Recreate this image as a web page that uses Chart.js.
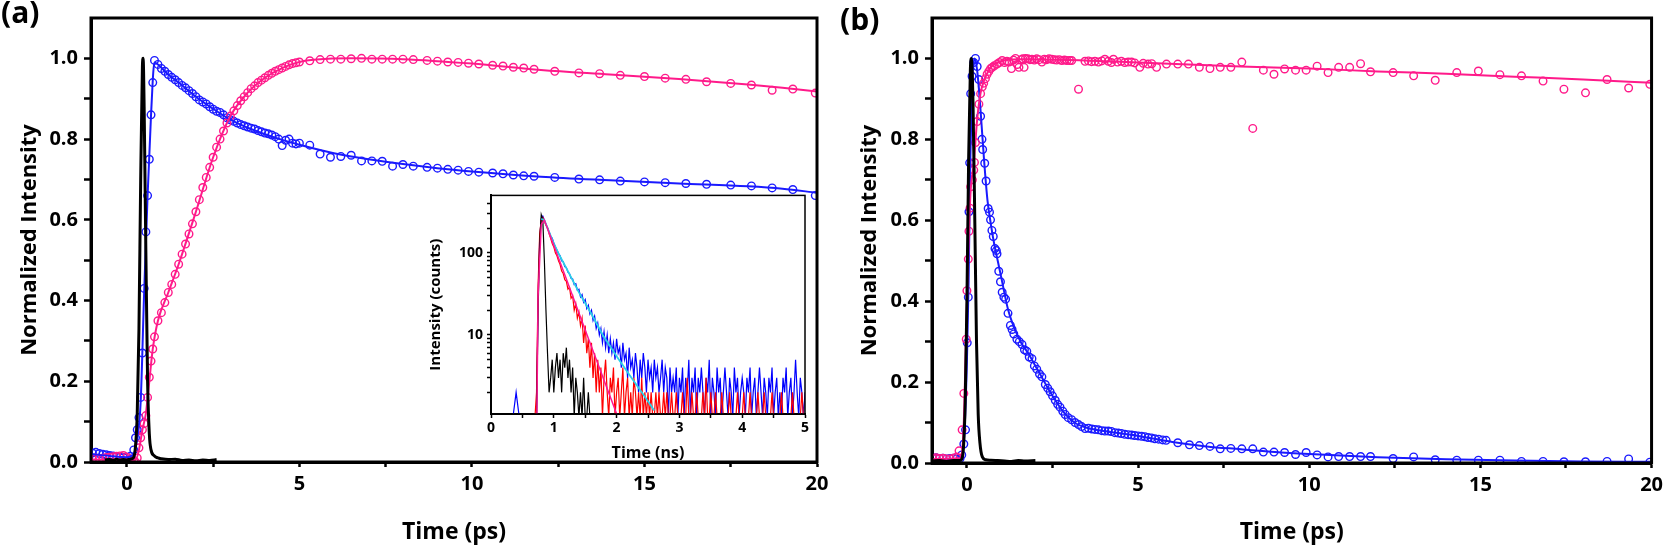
<!DOCTYPE html>
<html>
<head>
<meta charset="utf-8">
<script src="https://cdn.jsdelivr.net/npm/chart.js@4.4.1/dist/chart.umd.min.js"></script>
<style>
  html, body { margin: 0; padding: 0; background: #fff; }
  #wrap { position: relative; width: 1668px; height: 546px; overflow: hidden; }
  canvas { position: absolute; }
  .tag { position: absolute; font: bold 30px 'Open Sans', sans-serif; line-height: 30px; color: #000; }
</style>
</head>
<body>
<div id="wrap">
  <canvas id="chartA" width="834" height="546" style="left:0;top:0"></canvas>
  <canvas id="chartB" width="834" height="546" style="left:834px;top:0"></canvas>
  <canvas id="inset" width="400" height="287" style="left:415px;top:183px"></canvas>
  <div class="tag" style="left:1px;top:-3px">(a)</div>
  <div class="tag" style="left:840px;top:4px">(b)</div>
</div>
<script>
// ---- tick labels ----
const X_TICKS = [0, 2.5, 5, 7.5, 10, 12.5, 15, 17.5, 20];
const Y_TICKS = [0, 0.1, 0.2, 0.3, 0.4, 0.5, 0.6, 0.7, 0.8, 0.9, 1.0];
const INSET_X_TICKS = [0, 0.5, 1, 1.5, 2, 2.5, 3, 3.5, 4, 4.5, 5];
const INSET_Y_TICKS = [2, 3, 4, 5, 6, 7, 8, 9, 10, 20, 30, 40, 50, 60, 70, 80, 90, 100, 200, 300, 400];

// ---- panel (a): time (ps) of the circles ----
const A_T = [
  -1.0, -0.9, -0.8, -0.7, -0.6, -0.5, -0.4, -0.3, -0.2, -0.1, 0.0, 0.1, 0.2,
  0.25, 0.3, 0.35, 0.4, 0.45, 0.5, 0.55, 0.6, 0.65, 0.7, 0.75, 0.8,
  0.9, 1.0, 1.1, 1.2, 1.3, 1.4, 1.5, 1.6, 1.7, 1.8, 1.9, 2.0, 2.1, 2.2, 2.3, 2.4, 2.5, 2.6, 2.7, 2.8, 2.9,
  3.0, 3.1, 3.2, 3.3, 3.4, 3.5, 3.6, 3.7, 3.8, 3.9, 4.0, 4.1, 4.2, 4.3, 4.4, 4.5, 4.6, 4.7, 4.8, 4.9, 5.0,
  5.3, 5.6, 5.9, 6.2, 6.5, 6.8, 7.1, 7.4, 7.7, 8.0, 8.3, 8.7, 9.0, 9.3, 9.6, 9.9, 10.2, 10.6, 10.9, 11.2, 11.5, 11.8,
  12.4, 13.1, 13.7, 14.3, 15.0, 15.6, 16.2, 16.8, 17.5, 18.1, 18.7, 19.3, 19.95
];
const A_BLUE = [
  0.022, 0.024, 0.021, 0.019, 0.018, 0.016, 0.015, 0.013, 0.012, 0.011, 0.012, 0.014, 0.03,
  0.06, 0.08, 0.11, 0.16, 0.27, 0.43, 0.57, 0.66, 0.75, 0.86, 0.94, 0.995,
  0.985, 0.975, 0.968, 0.96, 0.953, 0.947, 0.94, 0.933, 0.927, 0.92, 0.913, 0.905, 0.897, 0.892, 0.887, 0.88, 0.874, 0.869, 0.866, 0.86, 0.853,
  0.848, 0.844, 0.84, 0.836, 0.833, 0.83, 0.827, 0.825, 0.821, 0.818, 0.815, 0.813, 0.81, 0.806, 0.80, 0.784, 0.797, 0.80, 0.79, 0.788, 0.79,
  0.785, 0.763, 0.755, 0.757, 0.76, 0.746, 0.746, 0.745, 0.733, 0.737, 0.733, 0.73, 0.728, 0.725, 0.723, 0.72, 0.718, 0.716, 0.714, 0.711, 0.709, 0.708,
  0.705, 0.701, 0.699, 0.696, 0.694, 0.692, 0.69, 0.688, 0.686, 0.684, 0.679, 0.675, 0.66
];
const A_PINK = [
  0.008, 0.01, 0.008, 0.009, 0.011, 0.012, 0.013, 0.014, 0.015, 0.016, 0.012, 0.008, 0.004,
  0.0, 0.01, 0.035, 0.06, 0.08, 0.095, 0.115, 0.16, 0.21, 0.25, 0.28, 0.31,
  0.35, 0.37, 0.395, 0.42, 0.44, 0.465, 0.49, 0.515, 0.54, 0.565, 0.59, 0.62, 0.65, 0.68, 0.705, 0.73, 0.755, 0.78, 0.80, 0.82, 0.84,
  0.857, 0.87, 0.883, 0.895, 0.905, 0.915, 0.925, 0.932, 0.94, 0.946, 0.952, 0.958, 0.963, 0.968, 0.972, 0.976, 0.98, 0.984, 0.987, 0.989, 0.991,
  0.994, 0.997, 0.998, 0.998, 0.999, 1.0, 0.998, 0.998, 0.998, 0.998, 0.997, 0.995, 0.993, 0.991, 0.99, 0.988, 0.986, 0.983, 0.981, 0.978, 0.976, 0.973,
  0.968, 0.964, 0.962, 0.958, 0.955, 0.951, 0.948, 0.942, 0.938, 0.934, 0.921, 0.924, 0.914
];
const A_BLUE_FIT_T = [-1.04, -0.5, 0.0, 0.2, 0.3, 0.4, 0.5, 0.6, 0.7, 0.8, 0.9, 1.2, 1.5, 2.0, 2.5, 3.0, 3.5, 4.0, 4.5, 5.0, 6.0, 7.0, 8.0, 9.0, 10.0, 12.0, 14.0, 16.0, 18.0, 19.0, 20.0];
const A_BLUE_FIT = [0.02, 0.015, 0.012, 0.02, 0.06, 0.15, 0.42, 0.66, 0.86, 0.99, 0.985, 0.96, 0.94, 0.905, 0.875, 0.848, 0.828, 0.812, 0.798, 0.786, 0.765, 0.75, 0.738, 0.728, 0.72, 0.707, 0.698, 0.69, 0.683, 0.677, 0.667];
const A_PINK_FIT_T = [-1.04, 0.25, 0.35, 0.45, 0.55, 0.65, 0.75, 0.9, 1.2, 1.5, 2.0, 2.5, 3.0, 3.5, 4.0, 4.5, 5.0, 5.5, 6.5, 8.0, 10.0, 12.0, 14.0, 16.0, 18.0, 19.0, 20.0];
const A_PINK_FIT = [0.006, 0.005, 0.03, 0.08, 0.12, 0.2, 0.28, 0.35, 0.42, 0.49, 0.62, 0.755, 0.857, 0.915, 0.952, 0.976, 0.991, 0.997, 1.0, 0.998, 0.987, 0.971, 0.96, 0.949, 0.935, 0.927, 0.918];
const A_IRF_T = [-0.64, -0.5, -0.4, -0.3, -0.2, -0.1, 0.0, 0.1, 0.2, 0.25, 0.3, 0.35, 0.4, 0.45, 0.47, 0.5, 0.55, 0.6, 0.65, 0.7, 0.8, 0.9, 1.0, 1.2, 1.4, 1.6, 1.8, 2.0, 2.2, 2.4, 2.6];
const A_IRF = [0.005, 0.006, 0.004, 0.007, 0.005, 0.006, 0.005, 0.007, 0.012, 0.04, 0.12, 0.33, 0.7, 0.98, 1.0, 0.88, 0.52, 0.2, 0.07, 0.03, 0.015, 0.01, 0.008, 0.006, 0.007, 0.004, 0.005, 0.003, 0.005, 0.004, 0.006];

// ---- panel (b) ----
const B_BLUE_T = [
  -1.0, -0.9, -0.8, -0.7, -0.6, -0.5, -0.4, -0.3, -0.2, -0.15,
  -0.09, -0.04, 0.01, 0.04, 0.06, 0.08, 0.11, 0.15, 0.2, 0.25,
  0.3, 0.35, 0.4, 0.44, 0.46, 0.52, 0.56, 0.62, 0.66, 0.69,
  0.73, 0.77, 0.82, 0.86, 0.88, 0.93, 0.98, 1.03, 1.08, 1.13,
  1.2, 1.27, 1.32, 1.37, 1.46, 1.53, 1.61, 1.68, 1.75, 1.82,
  1.9, 1.97, 2.04, 2.12, 2.19, 2.29, 2.36, 2.43, 2.5, 2.58,
  2.65, 2.72, 2.8, 2.87, 2.96, 3.06, 3.16, 3.26, 3.35, 3.45,
  3.55, 3.65, 3.74, 3.84, 3.94, 4.03, 4.13, 4.22, 4.32, 4.42,
  4.51, 4.61, 4.71, 4.81, 4.9, 5.0, 5.1, 5.2, 5.29, 5.39,
  5.49, 5.6, 5.72, 5.82, 6.16, 6.5, 6.79, 7.1, 7.4, 7.71,
  8.03, 8.35, 8.66, 8.97, 9.28, 9.6, 9.91, 10.23, 10.55, 10.86,
  11.18, 11.5, 11.79, 12.45, 13.05, 13.68, 14.31, 14.94, 15.57, 16.2,
  16.83, 17.44, 18.07, 18.7, 19.33, 19.95
];
const B_BLUE = [
  0.012, 0.013, 0.011, 0.012, 0.01, 0.011, 0.012, 0.01, 0.011, 0.02,
  0.047, 0.082, 0.297, 0.41, 0.621, 0.742, 0.913, 0.956, 0.99, 1.0,
  0.98, 0.948, 0.857, 0.8, 0.775, 0.741, 0.697, 0.629, 0.62, 0.601,
  0.575, 0.56, 0.53, 0.525, 0.517, 0.474, 0.448, 0.422, 0.41, 0.405,
  0.37, 0.34, 0.33, 0.319, 0.306, 0.3, 0.293, 0.28, 0.276, 0.262,
  0.258, 0.24, 0.232, 0.22, 0.213, 0.194, 0.185, 0.176, 0.166, 0.155,
  0.145, 0.138, 0.128, 0.12, 0.112, 0.107, 0.1, 0.095, 0.09, 0.085,
  0.086, 0.084, 0.083, 0.082, 0.08, 0.079, 0.079, 0.078, 0.075, 0.074,
  0.073, 0.071, 0.07, 0.069, 0.068, 0.067, 0.066, 0.065, 0.063, 0.062,
  0.06, 0.059, 0.057, 0.056, 0.05, 0.045, 0.043, 0.041, 0.035, 0.036,
  0.035, 0.035, 0.027, 0.027, 0.026, 0.021, 0.026, 0.02, 0.015, 0.016,
  0.016, 0.016, 0.016, 0.011, 0.015, 0.008, 0.007, 0.007, 0.007, 0.004,
  0.004, 0.003, 0.003, 0.004, 0.01, 0.002
];
const B_PINK_T = [
  -1.0, -0.9, -0.8, -0.7, -0.6, -0.5, -0.4, -0.3, -0.23, -0.14,
  -0.09, -0.02, 0.0, 0.04, 0.06, 0.09, 0.11, 0.16, 0.2, 0.22,
  0.25, 0.3, 0.35, 0.4, 0.45, 0.49, 0.54, 0.59, 0.64, 0.69,
  0.74, 0.8, 0.88, 0.95, 1.03, 1.1, 1.17, 1.23, 1.3, 1.36,
  1.42, 1.47, 1.52, 1.58, 1.63, 1.67, 1.71, 1.78, 1.84, 1.9,
  1.97, 2.04, 2.11, 2.19, 2.26, 2.33, 2.4, 2.48, 2.55, 2.62,
  2.7, 2.77, 2.85, 2.92, 3.0, 3.06, 3.26, 3.45, 3.55, 3.64,
  3.74, 3.84, 3.94, 4.03, 4.13, 4.22, 4.28, 4.4, 4.51, 4.61,
  4.71, 4.81, 4.9, 5.05, 5.15, 5.29, 5.4, 5.54, 5.83, 6.16,
  6.47, 6.79, 7.1, 7.4, 7.71, 8.03, 8.35, 8.66, 8.97, 9.28,
  9.6, 9.91, 10.23, 10.55, 10.86, 11.18, 11.5, 11.79, 12.45, 13.05,
  13.68, 14.31, 14.94, 15.57, 16.2, 16.83, 17.44, 18.07, 18.7, 19.33,
  19.95
];
const B_PINK = [
  0.012, 0.013, 0.011, 0.012, 0.01, 0.01, 0.012, 0.015, 0.03, 0.082,
  0.172, 0.306, 0.426, 0.504, 0.573, 0.63, 0.683, 0.7, 0.724, 0.743,
  0.792, 0.844, 0.887, 0.913, 0.93, 0.939, 0.95, 0.961, 0.968, 0.975,
  0.978, 0.982, 0.986, 0.99, 0.995, 0.99, 0.993, 0.991, 0.975, 0.996,
  1.0, 0.985, 0.978, 0.997, 0.999, 0.978, 1.0, 0.999, 0.997, 0.998,
  0.996, 0.999, 0.997, 0.991, 0.998, 0.997, 0.999, 0.998, 0.997, 0.996,
  0.997, 0.995, 0.996, 0.995, 0.995, 0.995, 0.924, 0.993, 0.994, 0.992,
  0.993, 0.991, 0.994, 0.998, 0.993, 0.99, 0.998, 0.991, 0.993, 0.99,
  0.991, 0.991, 0.989, 0.978, 0.988, 0.986, 0.987, 0.978, 0.986, 0.986,
  0.986, 0.978, 0.975, 0.978, 0.978, 0.991, 0.827, 0.971, 0.961, 0.974,
  0.971, 0.971, 0.981, 0.965, 0.978, 0.978, 0.987, 0.967, 0.965, 0.957,
  0.946, 0.965, 0.969, 0.96, 0.957, 0.944, 0.924, 0.915, 0.948, 0.927,
  0.936
];
const B_BLUE_FIT_T = [-1.02, -0.2, -0.1, 0.0, 0.05, 0.1, 0.15, 0.22, 0.3, 0.4, 0.5, 0.6, 0.7, 0.8, 0.9, 1.0, 1.2, 1.4, 1.6, 1.8, 2.0, 2.2, 2.4, 2.6, 2.8, 3.0, 3.2, 3.5, 4.0, 5.0, 6.0, 7.0, 8.0, 9.0, 10.0, 12.0, 14.0, 16.0, 18.0, 20.0];
const B_BLUE_FIT = [0.008, 0.01, 0.04, 0.25, 0.45, 0.75, 0.93, 1.0, 0.97, 0.87, 0.75, 0.65, 0.59, 0.54, 0.5, 0.46, 0.38, 0.33, 0.295, 0.27, 0.24, 0.21, 0.18, 0.153, 0.128, 0.11, 0.097, 0.087, 0.079, 0.067, 0.052, 0.041, 0.034, 0.027, 0.022, 0.014, 0.009, 0.006, 0.004, 0.003];
const B_PINK_FIT_T = [-1.02, -0.2, -0.1, 0.0, 0.1, 0.2, 0.3, 0.4, 0.5, 0.7, 1.0, 1.5, 3.0, 5.0, 8.0, 10.0, 12.0, 14.0, 16.0, 18.0, 20.0];
const B_PINK_FIT = [0.01, 0.012, 0.08, 0.4, 0.66, 0.74, 0.85, 0.915, 0.945, 0.978, 0.993, 0.998, 0.996, 0.99, 0.98, 0.975, 0.968, 0.962, 0.955, 0.948, 0.94];
const B_IRF_T = [-1.0, -0.8, -0.6, -0.4, -0.2, -0.15, -0.1, -0.05, 0.0, 0.05, 0.1, 0.13, 0.18, 0.23, 0.28, 0.33, 0.38, 0.45, 0.55, 0.7, 0.9, 1.1, 1.3, 1.5, 1.7, 2.0];
const B_IRF = [0.005, 0.006, 0.004, 0.006, 0.006, 0.01, 0.04, 0.15, 0.4, 0.75, 0.97, 1.0, 0.88, 0.6, 0.3, 0.12, 0.05, 0.015, 0.008, 0.007, 0.006, 0.005, 0.004, 0.006, 0.005, 0.006];

// ---- inset: time (ns) and counts ----
const INSET_T = [
  0.35, 0.40, 0.45,
  0.70, 0.725, 0.75, 0.775, 0.80, 0.825, 0.85, 0.875, 0.90, 0.925,
  0.95, 0.975, 1.00, 1.025, 1.05, 1.075, 1.10, 1.125, 1.15, 1.175,
  1.20, 1.225, 1.25, 1.275, 1.30, 1.325, 1.35, 1.375, 1.40, 1.425,
  1.45, 1.475, 1.50, 1.525, 1.55, 1.575, 1.60, 1.625, 1.65, 1.675,
  1.70, 1.725, 1.75, 1.775, 1.80, 1.825, 1.85, 1.875, 1.90, 1.925,
  1.95, 1.975, 2.00, 2.025, 2.05, 2.075, 2.10, 2.125, 2.15, 2.175,
  2.20, 2.225, 2.25, 2.275, 2.30, 2.325, 2.35, 2.375, 2.40, 2.425,
  2.45, 2.475, 2.50, 2.525, 2.55, 2.575, 2.60, 2.625, 2.65, 2.675,
  2.70, 2.725, 2.75, 2.775, 2.80, 2.825, 2.85, 2.875, 2.90, 2.925,
  2.95, 2.975, 3.00,
  3.025, 3.05, 3.075, 3.10, 3.125, 3.15, 3.175, 3.20, 3.225, 3.25,
  3.275, 3.30, 3.325, 3.35, 3.375, 3.40, 3.425, 3.45, 3.475, 3.50,
  3.525, 3.55, 3.575, 3.60, 3.625, 3.65, 3.675, 3.70, 3.725, 3.75,
  3.775, 3.80, 3.825, 3.85, 3.875, 3.90, 3.925, 3.95, 3.975, 4.00,
  4.025, 4.05, 4.075, 4.10, 4.125, 4.15, 4.175, 4.20, 4.225, 4.25,
  4.275, 4.30, 4.325, 4.35, 4.375, 4.40, 4.425, 4.45, 4.475, 4.50,
  4.525, 4.55, 4.575, 4.60, 4.625, 4.65, 4.675, 4.70, 4.725, 4.75,
  4.775, 4.80, 4.825, 4.85, 4.875, 4.90, 4.925, 4.95, 4.975, 5.00
];
const INSET_BLUE = [
  1, 2, 1,
  1, 1, 30, 150, 260, 280, 250, 225, 200, 180,
  160, 150, 132, 118, 108, 98, 92, 80, 78, 68,
  66, 58, 56, 49, 48, 41, 42, 35, 36, 29,
  31, 25, 27, 21, 23, 18, 20, 15, 17, 12,
  14, 10, 12, 8, 11, 7, 10, 6, 9, 6,
  8, 5, 9, 6, 7, 4, 8, 5, 6, 3,
  7, 4, 5, 3, 6, 4, 2, 5, 3, 6,
  4, 2, 5, 3, 4, 2, 5, 3, 4, 2,
  3, 5, 2, 4, 3, 1, 4, 2, 3, 2,
  4, 1, 3,
  2, 4, 1, 3, 2, 5, 1, 3, 2, 4,
  1, 3, 2, 4, 2, 1, 3, 2, 5, 1,
  3, 2, 1, 4, 2, 3, 1, 2, 4, 2,
  1, 3, 2, 1, 4, 2, 3, 1, 2, 3,
  2, 1, 3, 2, 4, 1, 2, 3, 1, 2,
  4, 2, 1, 3, 2, 1, 3, 2, 4, 1,
  2, 3, 1, 2, 1, 3, 2, 4, 1, 2,
  3, 1, 2, 5, 2, 1, 3, 2, 1, 2
];
const INSET_RED = [
  1, 1, 1,
  1, 2, 40, 170, 250, 270, 240, 215, 205, 170,
  150, 130, 118, 100, 92, 80, 72, 60, 56, 47,
  45, 36, 38, 28, 30, 20, 24, 16, 19, 13,
  16, 8, 13, 6, 9, 4, 8, 3, 6, 2,
  5, 2, 4, 1, 3, 5, 2, 1, 3, 2,
  4, 1, 2, 3, 1, 2, 4, 1, 2, 3,
  1, 2, 1, 3, 2, 1, 2, 1, 3, 1,
  2, 1, 2, 1, 2, 1, 1, 2, 1, 2,
  1, 1, 2, 1, 2, 1, 1, 2, 1, 1,
  2, 1, 1,
  1, 2, 1, 1, 3, 1, 1, 2, 1, 1,
  2, 1, 1, 1, 2, 1, 3, 1, 1, 2,
  1, 1, 2, 1, 1, 1, 2, 1, 1, 1,
  1, 2, 1, 1, 1, 1, 2, 1, 1, 1,
  2, 1, 1, 1, 2, 1, 1, 1, 1, 2,
  1, 1, 1, 2, 1, 1, 1, 1, 2, 1,
  1, 1, 1, 1, 2, 1, 1, 1, 1, 1,
  1, 2, 1, 1, 1, 1, 1, 2, 1, 1
];
const INSET_BLACK = [
  1, 1, 1,
  1, 1, 20, 130, 290, 250, 80, 20, 6, 2,
  3, 5, 2, 4, 6, 3, 5, 2, 6, 4,
  7, 3, 5, 2, 4, 1, 3, 2, 1, 2,
  1, 3, 1, 1, 2, 1, 1
];
const CYAN_T = [0.80, 0.85, 0.90, 1.00, 1.07, 1.20, 1.40, 1.60, 1.78, 2.00, 2.20, 2.40, 2.60];
const CYAN_FIT = [260, 250, 200, 130, 100, 65, 33, 18, 10, 5.5, 3.3, 2.0, 1.2];
const MAGENTA_T = [0.73, 0.75, 0.80, 0.85, 1.00, 1.20, 1.40, 1.53, 1.60, 1.80, 2.00, 2.05];
const MAGENTA_FIT = [1, 30, 220, 250, 123, 48, 18.5, 10, 7.2, 2.8, 1.1, 0.9];

const BLUE = '#1a1aff';
const PINK = '#ff1a8a';

Chart.defaults.font.family = "'Open Sans', sans-serif";
Chart.defaults.font.weight = 'bold';
Chart.defaults.color = '#000';

function pts(xs, ys) {
  return ys.map((y, i) => ({ x: xs[i], y: y }));
}

// frame round the plot area (top and right sides too)
const frame = {
  id: 'frame',
  afterDraw(chart, args, opts) {
    const { ctx, chartArea: a } = chart;
    ctx.save();
    ctx.strokeStyle = '#000';
    ctx.lineWidth = opts.width || 3;
    ctx.strokeRect(a.left, a.top, a.right - a.left, a.bottom - a.top);
    ctx.restore();
  }
};

function circles(data, color, order) {
  return {
    data: data, showLine: false, order: order,
    pointRadius: 3.8, pointBorderWidth: 1.4,
    borderColor: color, backgroundColor: 'rgba(0,0,0,0)'
  };
}

function curve(data, color, width, order) {
  return {
    data: data, showLine: true, order: order,
    pointRadius: 0, borderColor: color, borderWidth: width,
    cubicInterpolationMode: 'monotone'
  };
}

function mainChart(id, datasets, xMin, yTitlePad, pad, yWidth, xHeight) {
  return new Chart(document.getElementById(id), {
    type: 'scatter',
    data: { datasets: datasets },
    plugins: [frame],
    options: {
      responsive: false,
      animation: false,
      events: [],
      layout: { padding: pad },
      plugins: { legend: { display: false }, tooltip: { enabled: false }, frame: { width: 3 } },
      scales: {
        x: {
          type: 'linear', min: xMin, max: 20,
          afterBuildTicks: s => { s.ticks = X_TICKS.map(v => ({ value: v })); },
          afterFit: s => { s.height = xHeight; },
          ticks: {
            autoSkip: false, maxRotation: 0, padding: 5,
            font: { size: 20, weight: 'bold' }, color: '#000',
            callback: v => (v % 5 === 0 ? String(v) : '')
          },
          grid: { drawOnChartArea: false, tickLength: 5, tickWidth: 2.5, tickColor: '#000', color: '#000' },
          border: { display: true, color: '#000', width: 3 },
          title: { display: true, text: 'Time (ps)', font: { size: 23, weight: 'bold' }, color: '#000', padding: { top: 0, bottom: 0 } }
        },
        y: {
          type: 'linear', min: 0, max: 1.1,
          afterBuildTicks: s => { s.ticks = Y_TICKS.map(v => ({ value: v })); },
          afterFit: s => { s.width = yWidth; },
          ticks: {
            autoSkip: false, padding: 6,
            font: { size: 20, weight: 'bold' }, color: '#000',
            callback: v => (Math.round(v * 10) % 2 === 0 ? v.toFixed(1) : '')
          },
          grid: { drawOnChartArea: false, tickLength: 7, tickWidth: 2.5, tickColor: '#000', color: '#000' },
          border: { display: true, color: '#000', width: 3 },
          title: { display: true, text: 'Normalized Intensity', font: { size: 22, weight: 'bold' }, color: '#000', padding: { top: yTitlePad, bottom: 0 } }
        }
      }
    }
  });
}

mainChart('chartA', [
  curve(pts(A_IRF_T, A_IRF), '#000', 3, 0),
  curve(pts(A_PINK_FIT_T, A_PINK_FIT), PINK, 2, 1),
  curve(pts(A_BLUE_FIT_T, A_BLUE_FIT), BLUE, 2, 2),
  circles(pts(A_T, A_PINK), PINK, 3),
  circles(pts(A_T, A_BLUE), BLUE, 4)
], -1.04, 17, { left: 0, right: 17, top: 13, bottom: 0 }, 91, 84);

mainChart('chartB', [
  curve(pts(B_IRF_T, B_IRF), '#000', 3, 0),
  curve(pts(B_PINK_FIT_T, B_PINK_FIT), PINK, 2, 1),
  curve(pts(B_BLUE_FIT_T, B_BLUE_FIT), BLUE, 2, 2),
  circles(pts(B_PINK_T, B_PINK), PINK, 3),
  circles(pts(B_BLUE_T, B_BLUE), BLUE, 4)
], -1.02, 23, { left: 0, right: 12, top: 18, bottom: 0 }, 98, 83);

// inset: photon counts on a log axis, noisy traces drawn point to point
function trace(data, color, width, order) {
  return {
    data: data, order: order, borderColor: color, borderWidth: width,
    pointRadius: 0, tension: 0, clip: 0, fill: false
  };
}

new Chart(document.getElementById('inset'), {
  type: 'line',
  data: {
    datasets: [
      { data: pts(MAGENTA_T, MAGENTA_FIT), order: 0, borderColor: '#ff1493', borderWidth: 1.5, pointRadius: 0, clip: 0 },
      { data: pts(CYAN_T, CYAN_FIT), order: 1, borderColor: '#2ad0e8', borderWidth: 1.8, pointRadius: 0, clip: 0 },
      trace(pts(INSET_T, INSET_BLACK), '#000', 1.2, 2),
      trace(pts(INSET_T, INSET_RED), '#ff0000', 1.2, 3),
      trace(pts(INSET_T, INSET_BLUE), '#0000ff', 1.2, 4)
    ]
  },
  plugins: [frame],
  options: {
    responsive: false,
    animation: false,
    events: [],
    layout: { padding: { left: 0, right: 10, top: 10, bottom: 0 } },
    plugins: { legend: { display: false }, tooltip: { enabled: false }, frame: { width: 1.5 } },
    scales: {
      x: {
        type: 'linear', min: 0, max: 5,
        afterBuildTicks: s => { s.ticks = INSET_X_TICKS.map(v => ({ value: v })); },
        afterFit: s => { s.height = 56; },
        ticks: {
          autoSkip: false, maxRotation: 0, padding: 2,
          font: { size: 14, weight: 'bold' }, color: '#000',
          callback: v => (Number.isInteger(v) ? String(v) : '')
        },
        grid: { drawOnChartArea: false, tickLength: 4, tickWidth: 1.5, tickColor: '#000', color: '#000' },
        border: { display: true, color: '#000', width: 2 },
        title: { display: true, text: 'Time (ns)', font: { size: 16, weight: 'bold' }, color: '#000', padding: { top: 0, bottom: 7 } }
      },
      y: {
        type: 'logarithmic', min: 1.09, max: 500,
        afterBuildTicks: s => { s.ticks = INSET_Y_TICKS.map(v => ({ value: v })); },
        afterFit: s => { s.width = 76; },
        ticks: {
          autoSkip: false, padding: 4,
          font: { size: 14, weight: 'bold' }, color: '#000',
          callback: v => (v === 10 || v === 100 ? String(v) : '')
        },
        grid: { drawOnChartArea: false, tickLength: 4, tickWidth: 1.5, tickColor: '#000', color: '#000' },
        border: { display: true, color: '#000', width: 2 },
        title: { display: true, text: 'Intensity (counts)', font: { size: 15, weight: 'bold' }, color: '#000', padding: { top: 12, bottom: 0 } }
      }
    }
  }
});
</script>
</body>
</html>
